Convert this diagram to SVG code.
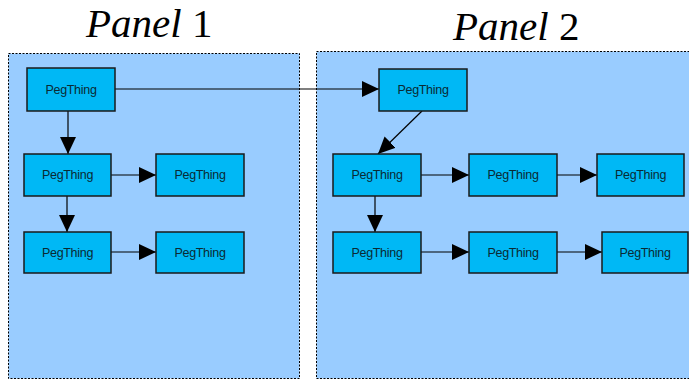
<svg xmlns="http://www.w3.org/2000/svg" width="689" height="381" viewBox="0 0 689 381">
<defs>
<style>
.panel{fill:#99CCFF;stroke:#000;stroke-width:1;stroke-dasharray:2 1.5}
.node rect{fill:#00B8F5;stroke:#1a1a1a;stroke-width:1.5}
.node text{font-family:"Liberation Sans",Arial,sans-serif;font-size:12.5px;fill:#0a2a33;text-anchor:middle;dominant-baseline:central;letter-spacing:-0.3px}
.title{font-family:"Liberation Serif","Times New Roman",serif;font-size:41px;fill:#000}
.conn line{stroke:#000;stroke-width:1.2;marker-end:url(#ah)}
</style>
<marker id="ah" viewBox="0 0 17 16" refX="17" refY="8" markerWidth="17" markerHeight="16" markerUnits="userSpaceOnUse" orient="auto">
<path d="M0,0 L17,8 L0,16 Z" fill="#000"/>
</marker>
</defs>
<rect width="689" height="381" fill="#fff"/>
<g id="panel1">
<rect class="panel" x="8.5" y="53.5" width="291" height="325"/>
<text class="title" x="86" y="37"><tspan font-style="italic">Panel</tspan> 1</text>
</g>
<g id="panel2">
<rect class="panel" x="316.5" y="51.5" width="380" height="327"/>
<text class="title" x="453" y="40"><tspan font-style="italic">Panel</tspan> 2</text>
</g>
<g class="conn" id="connectors">
<line x1="115" y1="89" x2="379" y2="89"/>
<line x1="68" y1="111" x2="68" y2="154"/>
<line x1="111" y1="175" x2="156" y2="175"/>
<line x1="67" y1="196" x2="67" y2="232"/>
<line x1="111" y1="252" x2="156" y2="252"/>
<line x1="422" y1="111" x2="378" y2="154"/>
<line x1="421" y1="175" x2="469" y2="175"/>
<line x1="557" y1="175" x2="597" y2="175"/>
<line x1="375" y1="196" x2="375" y2="232"/>
<line x1="421" y1="252" x2="469" y2="252"/>
<line x1="557" y1="252" x2="602" y2="252"/>
</g>
<g id="n1" class="node"><rect x="27" y="68" width="88" height="43"/><text x="71" y="89.5">PegThing</text></g>
<g id="n2" class="node"><rect x="24" y="154" width="87" height="42"/><text x="67.5" y="175">PegThing</text></g>
<g id="n3" class="node"><rect x="156" y="154" width="88" height="42"/><text x="200" y="175">PegThing</text></g>
<g id="n4" class="node"><rect x="24" y="232" width="87" height="41"/><text x="67.5" y="252.5">PegThing</text></g>
<g id="n5" class="node"><rect x="156" y="232" width="88" height="41"/><text x="200" y="252.5">PegThing</text></g>
<g id="n6" class="node"><rect x="379" y="69" width="88" height="42"/><text x="423" y="90">PegThing</text></g>
<g id="n7" class="node"><rect x="333" y="154" width="88" height="42"/><text x="377" y="175">PegThing</text></g>
<g id="n8" class="node"><rect x="469" y="154" width="88" height="42"/><text x="513" y="175">PegThing</text></g>
<g id="n9" class="node"><rect x="597" y="154" width="87" height="42"/><text x="640.5" y="175">PegThing</text></g>
<g id="n10" class="node"><rect x="333" y="232" width="88" height="41"/><text x="377" y="252.5">PegThing</text></g>
<g id="n11" class="node"><rect x="469" y="232" width="88" height="41"/><text x="513" y="252.5">PegThing</text></g>
<g id="n12" class="node"><rect x="602" y="232" width="86" height="41"/><text x="645" y="252.5">PegThing</text></g>
</svg>
